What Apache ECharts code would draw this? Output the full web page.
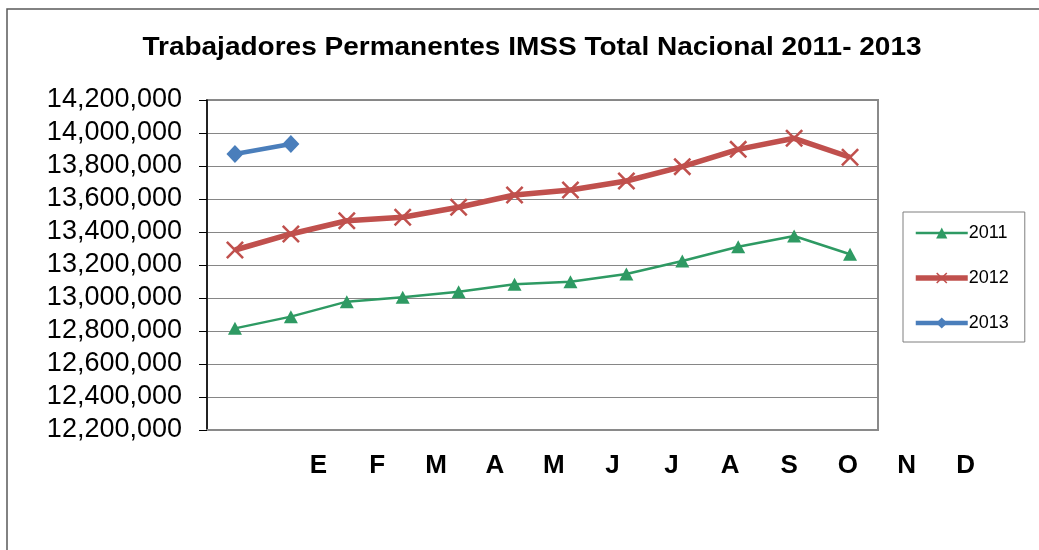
<!DOCTYPE html>
<html>
<head>
<meta charset="utf-8">
<script src="https://cdn.jsdelivr.net/npm/echarts@6/dist/echarts.min.js"></script>
<style>
  html, body { margin: 0; padding: 0; background: #fff; }
  #chart { width: 1039px; height: 550px; }
</style>
</head>
<body>
<div id="chart"></div>
<script>
// meses (E..D) y trabajadores permanentes por año
const months = ['E', 'F', 'M', 'A', 'M', 'J', 'J', 'A', 'S', 'O', 'N', 'D'];
const yTicks = [12200000, 14200000, 200000]; // min, max, paso
const data2011 = [12816000, 12887000, 12978000, 13004000, 13038000, 13083000,
                  13099000, 13146000, 13224000, 13311000, 13376000, 13265000];
const data2012 = [13291000, 13388000, 13468000, 13489000, 13550000, 13624000,
                  13655000, 13709000, 13796000, 13901000, 13968000, 13853000];
const data2013 = [13873000, 13933000];

const chart = echarts.init(document.getElementById('chart'));

// marca en forma de X
const xMark = 'path://M0,1L1,0L5,4L9,0L10,1L6,5L10,9L9,10L5,6L1,10L0,9L4,5Z';

const option = {
  backgroundColor: '#fff',
  animation: false,
  textStyle: { fontFamily: 'Liberation Sans, Arial, sans-serif' },
  graphic: [{
    type: 'rect',
    shape: { x: 7, y: 9, width: 1100, height: 600 },
    style: { fill: 'none', stroke: '#595959', lineWidth: 1.5 },
    silent: true
  }, {
    // título, algo ensanchado como en el original
    type: 'text',
    x: 532, y: 48,
    scaleX: 1.12,
    style: {
      text: 'Trabajadores Permanentes IMSS Total Nacional 2011- 2013',
      fontSize: 25, fontWeight: 'bold', fill: '#000',
      fontFamily: 'Liberation Sans, Arial, sans-serif',
      align: 'center', verticalAlign: 'middle'
    },
    silent: true
  }],
  legend: {
    orient: 'vertical',
    left: 903,
    top: 212,
    padding: [12, 16, 10, 10],
    itemGap: 27,
    itemWidth: 52,
    itemHeight: 14,
    borderColor: '#7f7f7f',
    borderWidth: 1,
    textStyle: { fontSize: 18, color: '#000', padding: [0, 0, 0, -4] },
    data: [
      { name: '2011', lineStyle: { width: 2.5 } },
      { name: '2012', lineStyle: { width: 5.5 } },
      { name: '2013', lineStyle: { width: 4.5 } }
    ]
  },
  grid: [
    { left: 207, right: 161, top: 100, bottom: 120, show: true,
      borderColor: '#8a8a8a', borderWidth: 2, backgroundColor: '#fff' },
    { left: 289, right: 44, top: 440, height: 1, show: false }
  ],
  xAxis: [
    {
      type: 'category', gridIndex: 0, data: months, boundaryGap: true,
      axisLine: { show: true, lineStyle: { color: '#8a8a8a', width: 2 } },
      axisTick: { show: false },
      axisLabel: { show: false },
      splitLine: { show: false }
    },
    {
      type: 'category', gridIndex: 1, data: months, boundaryGap: true,
      axisLine: { show: false },
      axisTick: { show: false },
      axisLabel: { show: true, margin: 12, fontSize: 26, fontWeight: 'bold',
                   color: '#000' },
      splitLine: { show: false }
    }
  ],
  yAxis: [
    {
      type: 'value', gridIndex: 0,
      min: yTicks[0], max: yTicks[1], interval: yTicks[2],
      axisLine: { show: true, lineStyle: { color: '#000', width: 1.5 } },
      axisTick: { show: true, inside: false, length: 8,
                  lineStyle: { color: '#000', width: 1 } },
      axisLabel: {
        margin: 25, fontSize: 27, color: '#000',
        formatter: v => v.toLocaleString('en-US')
      },
      splitLine: { show: true, lineStyle: { color: '#868686', width: 1.2 } }
    },
    { type: 'value', gridIndex: 1, show: false }
  ],
  series: [
    {
      name: '2011', type: 'line', xAxisIndex: 0, yAxisIndex: 0,
      data: data2011,
      symbol: 'triangle', symbolSize: [14, 13],
      lineStyle: { color: '#2e9a63', width: 2.5 },
      itemStyle: { color: '#2e9a63' }
    },
    {
      name: '2012', type: 'line', xAxisIndex: 0, yAxisIndex: 0,
      data: data2012,
      symbol: xMark, symbolSize: 18,
      lineStyle: { color: '#c0504d', width: 5.5 },
      itemStyle: { color: '#c0504d' }
    },
    {
      name: '2013', type: 'line', xAxisIndex: 0, yAxisIndex: 0,
      data: data2013,
      symbol: 'diamond', symbolSize: [17, 18],
      lineStyle: { color: '#4a7ebb', width: 4.5 },
      itemStyle: { color: '#4a7ebb' }
    }
  ]
};

chart.setOption(option);
</script>
</body>
</html>
